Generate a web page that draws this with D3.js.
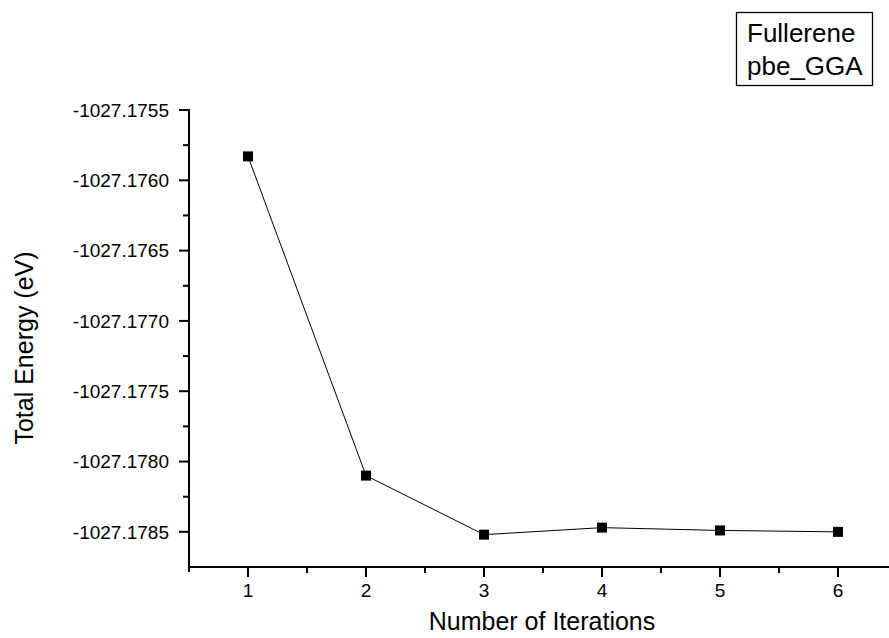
<!DOCTYPE html>
<html><head><meta charset="utf-8">
<script src="https://cdn.jsdelivr.net/npm/d3@7"></script>
<style>body{margin:0;background:#fff}svg{display:block}text{font-family:"Liberation Sans",Arial,sans-serif;fill:#000}</style>
</head><body>
<script>
const iterations = [1, 2, 3, 4, 5, 6];
const energies = [-1027.17583, -1027.17810, -1027.17852, -1027.17847, -1027.17849, -1027.17850];
const yTickValues = [-1027.1755, -1027.1760, -1027.1765, -1027.1770, -1027.1775, -1027.1780, -1027.1785];
const xTickValues = [1, 2, 3, 4, 5, 6];
const legendLines = ["Fullerene", "pbe_GGA"];

const W = 889, H = 638;
const svg = d3.select("body").append("svg").attr("width", W).attr("height", H);
const x = d3.scaleLinear().domain([0.5, 6.5]).range([189, 897]);
const y = d3.scaleLinear().domain([-1027.17875, -1027.1755]).range([567, 110]);

// y axis
const yMinor = d3.range(0, 7).map(i => -1027.1755 - 0.00025 - i * 0.0005).filter(v => v > -1027.17875);
const gy = svg.append("g").attr("transform", "translate(189,0)");
gy.append("line").attr("x1", 0).attr("x2", 0).attr("y1", 109).attr("y2", 568).attr("stroke", "#000").attr("stroke-width", 2);
gy.selectAll(".ymaj").data(yTickValues).enter().append("line")
  .attr("x1", -10).attr("x2", 0).attr("y1", d => y(d)).attr("y2", d => y(d)).attr("stroke", "#000").attr("stroke-width", 2);
gy.selectAll(".ymin").data(yMinor).enter().append("line")
  .attr("x1", -6).attr("x2", 0).attr("y1", d => y(d)).attr("y2", d => y(d)).attr("stroke", "#000").attr("stroke-width", 2);
gy.selectAll(".ylab").data(yTickValues).enter().append("text")
  .attr("x", -20).attr("y", d => y(d)).attr("dy", "0.36em").attr("text-anchor", "end")
  .style("font-size", "19px").text(d => d.toFixed(4));

// x axis
const xMinor = [1.5, 2.5, 3.5, 4.5, 5.5];
const gx = svg.append("g").attr("transform", "translate(0,567)");
gx.append("line").attr("x1", 188).attr("x2", W).attr("y1", 0).attr("y2", 0).attr("stroke", "#000").attr("stroke-width", 2);
gx.selectAll(".xmaj").data([0.5].concat(xTickValues)).enter().append("line")
  .attr("x1", d => x(d)).attr("x2", d => x(d)).attr("y1", 0).attr("y2", d => d === 0.5 ? 5 : 10).attr("stroke", "#000").attr("stroke-width", 2);
gx.selectAll(".xmin").data(xMinor).enter().append("line")
  .attr("x1", d => x(d)).attr("x2", d => x(d)).attr("y1", 0).attr("y2", 6).attr("stroke", "#000").attr("stroke-width", 2);
gx.selectAll(".xlab").data(xTickValues).enter().append("text")
  .attr("x", d => x(d)).attr("y", 30).attr("text-anchor", "middle")
  .style("font-size", "19px").text(d => d);

// titles
svg.append("text").attr("x", 542).attr("y", 630).attr("text-anchor", "middle").style("font-size", "25px").text("Number of Iterations");
svg.append("text").attr("transform", "translate(33,348) rotate(-90)").attr("text-anchor", "middle").style("font-size", "25px").text("Total Energy (eV)");

// line + markers
const pts = iterations.map((d, i) => [d, energies[i]]);
svg.append("path").datum(pts).attr("fill", "none").attr("stroke", "#000").attr("stroke-width", 1)
  .attr("d", d3.line().x(d => x(d[0])).y(d => y(d[1])));
svg.selectAll(".pt").data(pts).enter().append("rect")
  .attr("x", d => x(d[0]) - 5).attr("y", d => y(d[1]) - 5).attr("width", 10).attr("height", 10).attr("fill", "#000");

// legend box
svg.append("rect").attr("x", 736.5).attr("y", 12.5).attr("width", 136).attr("height", 73).attr("fill", "#fff").attr("stroke", "#000").attr("stroke-width", 1.3);
svg.selectAll(".leg").data(legendLines).enter().append("text")
  .attr("x", 747).attr("y", (d, i) => 42 + i * 33).style("font-size", "26px").text(d => d);
</script>
</body></html>
